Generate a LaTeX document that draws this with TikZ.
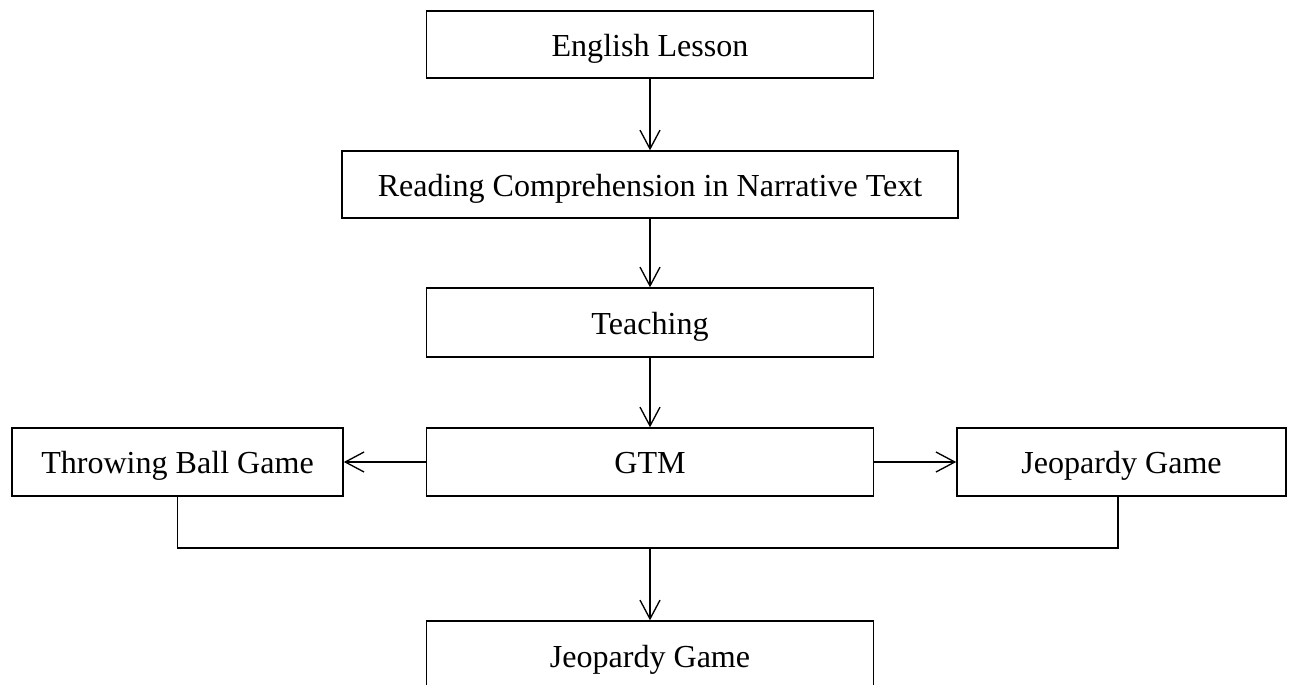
\documentclass[tikz,border=0pt]{standalone}
\usepackage{fontspec}
\setmainfont{Liberation Serif}
\usetikzlibrary{arrows.meta}
\tikzset{
    box/.style={draw, line width=0.95pt, inner sep=0pt, text height=16.6pt, text depth=0pt, font=\fontsize{22.8}{27}\selectfont},
    arr/.style={line width=0.95pt, -{Straight Barb[length=0.47cm, width=0.5cm, line width=0.95pt]}}
}
\begin{document}
\begin{tikzpicture}[x=0.025cm, y=-0.025cm]
    \clip (0,0) rectangle (1293,684);
    \node[box, minimum width=11.18cm, minimum height=1.675cm] (lesson) at (650,44.5) {English Lesson};
    \node[box, minimum width=15.4cm, minimum height=1.675cm] (reading) at (650,184.5) {Reading Comprehension in Narrative Text};
    \node[box, minimum width=11.18cm, minimum height=1.725cm] (teaching) at (650,322.5) {Teaching};
    \node[box, minimum width=11.18cm, minimum height=1.7cm] (gtm) at (650,462) {GTM};
    \node[box, minimum width=8.28cm, minimum height=1.7cm] (throw) at (177.5,462) {Throwing Ball Game};
    \node[box, minimum width=8.23cm, minimum height=1.7cm] (jeop) at (1121.5,462) {Jeopardy Game};
    \node[box, minimum width=11.18cm, minimum height=1.725cm] (final) at (650,655.5) {Jeopardy Game};
    \coordinate (join) at (650,548);
    \draw[arr] (lesson) -- (reading);
    \draw[arr] (reading) -- (teaching);
    \draw[arr] (teaching) -- (gtm);
    \draw[arr] (gtm) -- (throw);
    \draw[arr] (gtm) -- (jeop);
    \draw[line width=0.95pt] (throw.south) |- (join) -| ([xshift=-0.09cm]jeop.south);
    \draw[arr] (join) -- (final);
   \end{tikzpicture}
\end{document}
